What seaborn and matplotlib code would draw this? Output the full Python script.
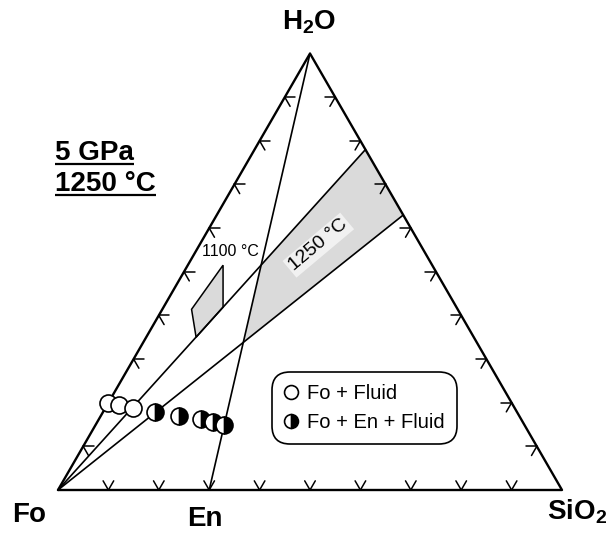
import numpy as np
import pandas as pd
import matplotlib
matplotlib.use("Agg")
import matplotlib.pyplot as plt
from matplotlib.lines import Line2D
import seaborn as sns

# Compositions as (SiO2, H2O) weight fractions; Fo = 1 - SiO2 - H2O
en_sio2 = 0.30
band_upper_end = (0.22, 0.78)      # end of upper band boundary on SiO2-H2O join
band_lower_end = (0.37, 0.63)      # end of lower band boundary on SiO2-H2O join
poly1100_sio2 = [0.070, 0.118, 0.099, 0.058]
poly1100_h2o = [0.515, 0.419, 0.350, 0.414]
fo_fluid_sio2 = [0.000, 0.024, 0.054]
fo_fluid_h2o = [0.199, 0.195, 0.189]
fo_en_fluid_sio2 = [0.103, 0.156, 0.203, 0.229, 0.255]
fo_en_fluid_h2o = [0.179, 0.170, 0.162, 0.156, 0.149]
tick_fracs = [0.1, 0.2, 0.3, 0.4, 0.5, 0.6, 0.7, 0.8, 0.9]
vertex_labels = ["Fo", "En", r"SiO$_{\mathbf{2}}$", r"H$_{\mathbf{2}}$O"]
legend_labels = ["Fo + Fluid", "Fo + En + Fluid"]

S3 = np.sqrt(3) / 2


def tern(sio2, h2o):
    sio2 = np.asarray(sio2, float)
    h2o = np.asarray(h2o, float)
    return sio2 + h2o / 2, h2o * S3


def intersect(p1, p2, p3, p4):
    # intersection of line p1-p2 with line p3-p4 (cartesian)
    x1, y1 = p1; x2, y2 = p2; x3, y3 = p3; x4, y4 = p4
    d = (x1 - x2) * (y3 - y4) - (y1 - y2) * (x3 - x4)
    t = ((x1 - x3) * (y3 - y4) - (y1 - y3) * (x3 - x4)) / d
    return x1 + t * (x2 - x1), y1 + t * (y2 - y1)


sns.set_theme(style="white")
plt.rcParams["font.family"] = ["Liberation Sans", "DejaVu Sans"]
plt.rcParams["text.color"] = "black"
plt.rcParams["mathtext.fontset"] = "custom"
plt.rcParams["mathtext.rm"] = "Liberation Sans"
plt.rcParams["mathtext.bf"] = "Liberation Sans:bold"

fig = plt.figure(figsize=(6.13, 5.36), dpi=100)
ax = fig.add_axes([0, 0, 1, 1])
ax.set_xlim(-58 / 504, 555 / 504)
ax.set_ylim(-46 / 504, 490 / 504)
ax.axis("off")

FO = (0.0, 0.0)
SI = (1.0, 0.0)
WA = (0.5, S3)
EN = tern(en_sio2, 0.0)
UP = tern(*band_upper_end)
LO = tern(*band_lower_end)

# shaded 1250 °C band between the two Fo tie lines, right of the En-H2O join
up_en = intersect(FO, UP, EN, WA)
lo_en = intersect(FO, LO, EN, WA)
band = np.array([up_en, UP, LO, lo_en])
ax.fill(band[:, 0], band[:, 1], color="#dadada", lw=0, zorder=1)

# shaded 1100 °C field
px, py = tern(poly1100_sio2, poly1100_h2o)
ax.fill(px, py, facecolor="#dadada", edgecolor="black", lw=1.1, zorder=2)

# triangle outline
edges = pd.DataFrame({"x": [FO[0], SI[0], WA[0], FO[0]],
                      "y": [FO[1], SI[1], WA[1], FO[1]]})
sns.lineplot(data=edges, x="x", y="y", sort=False, estimator=None,
             color="black", lw=1.7, ax=ax, zorder=3)

# joins and tie lines
segs = [(WA, EN), (FO, UP), (FO, LO)]
rows = []
for i, (a, b) in enumerate(segs):
    rows.append({"seg": i, "x": a[0], "y": a[1]})
    rows.append({"seg": i, "x": b[0], "y": b[1]})
lines = pd.DataFrame(rows)
sns.lineplot(data=lines, x="x", y="y", units="seg", sort=False,
             estimator=None, color="black", lw=1.2, ax=ax, zorder=3)

# edge ticks: two short arms along the grid directions into the triangle
L = 0.021
tick_rows = []
k = 0
for f in tick_fracs:
    bases = [
        ((f, 0.0), [60, 120]),                       # Fo-SiO2 join
        ((f / 2, f * S3), [0, -60]),                 # Fo-H2O join
        ((1 - f / 2, f * S3), [180, 240]),           # SiO2-H2O join
    ]
    for (bx, by), angs in bases:
        for a in angs:
            r = np.deg2rad(a)
            tick_rows.append({"seg": k, "x": bx, "y": by})
            tick_rows.append({"seg": k, "x": bx + L * np.cos(r), "y": by + L * np.sin(r)})
            k += 1
ticks = pd.DataFrame(tick_rows)
sns.lineplot(data=ticks, x="x", y="y", units="seg", sort=False,
             estimator=None, color="black", lw=1.1, ax=ax, zorder=3)

# experiments
ox, oy = tern(fo_fluid_sio2, fo_fluid_h2o)
sns.scatterplot(x=ox, y=oy, s=150, marker="o", facecolor="white",
                edgecolor="black", linewidth=1.2, ax=ax, zorder=5)
hx, hy = tern(fo_en_fluid_sio2, fo_en_fluid_h2o)
ax.plot(hx, hy, ls="none", marker="o", ms=12.2, fillstyle="right",
        mfc="black", mfcalt="white", mec="black", mew=1.2, zorder=5)

# labels inside the diagram
tx, ty = tern(0.070, 0.546)
ax.text(tx, ty, "1100 °C", fontsize=11.5, ha="center", va="center", zorder=4)
tx, ty = tern(0.236, 0.561)
ax.text(tx, ty, "1250 °C", fontsize=14, ha="center", va="center",
        rotation=40, zorder=4,
        bbox=dict(boxstyle="square,pad=0.12", fc="#f1f1f1", ec="none"))

# vertex labels
bold = dict(fontsize=20, fontweight="bold", ha="center", va="center")
ax.text(-0.0575, -0.0496, vertex_labels[0], **bold)
ax.text(0.2917, -0.0585, vertex_labels[1], **bold)
ax.text(1.0308, -0.0437, vertex_labels[2], **bold)
ax.text(0.498, 0.9286, vertex_labels[3], **bold)

# conditions, underlined
t1 = ax.text(-0.006, 0.6538, "5 GPa", fontsize=20, fontweight="bold",
             ha="left", va="baseline")
t2 = ax.text(-0.006, 0.5942, "1250 °C", fontsize=20, fontweight="bold",
             ha="left", va="baseline")

# legend
handles = [
    Line2D([], [], ls="none", marker="o", ms=10, mfc="white", mec="black", mew=1.2),
    Line2D([], [], ls="none", marker="o", ms=10, fillstyle="right", mfc="black",
           mfcalt="white", mec="black", mew=1.2),
]
leg = ax.legend(handles, legend_labels, loc="center",
                bbox_to_anchor=(0.6075, 0.1621), bbox_transform=ax.transData,
                fontsize=14.5, frameon=True, fancybox=True, handlelength=0.7,
                handletextpad=0.45, borderpad=0.6, labelspacing=0.5,
                borderaxespad=0)
for txt in leg.get_texts():
    txt.set_color("black")
frame = leg.get_frame()
frame.set_edgecolor("black")
frame.set_linewidth(1.2)
frame.set_facecolor("white")
frame.set_alpha(1)
frame.set_boxstyle("round,pad=0,rounding_size=0.9")
leg.set_zorder(6)

fig.canvas.draw()
inv = ax.transData.inverted()
for t, ybase in [(t1, 0.6538), (t2, 0.5942)]:
    bb = t.get_window_extent()
    (x0, _), (x1, _) = inv.transform([[bb.x0, bb.y0], [bb.x1, bb.y0]])
    yu = ybase - 4.0 / 504
    ax.plot([x0, x1], [yu, yu], color="black", lw=1.6, solid_capstyle="butt")

fig.savefig("out.png", dpi=100)
